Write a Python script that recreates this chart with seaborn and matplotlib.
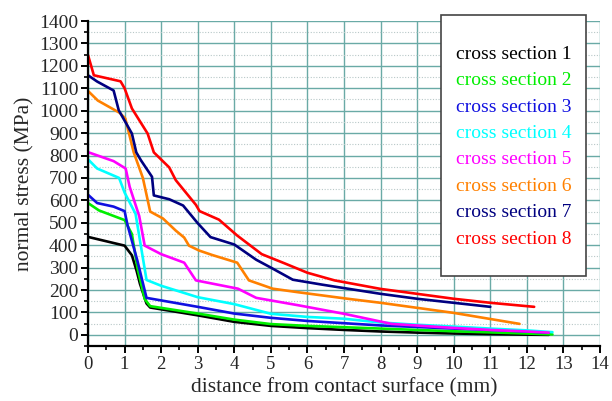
import matplotlib
matplotlib.use("Agg")
import matplotlib.pyplot as plt
from matplotlib.ticker import MultipleLocator
from matplotlib.patches import Rectangle
import seaborn as sns
import pandas as pd

sns.set_style("white")
plt.rcParams['font.family'] = ['Liberation Serif', 'DejaVu Serif']
plt.rcParams['mathtext.fontset'] = 'stix'

labels = ["cross section 1", "cross section 2", "cross section 3", "cross section 4",
          "cross section 5", "cross section 6", "cross section 7", "cross section 8"]
colors = ["#000000", "#00ee00", "#1010e0", "#00ffff", "#ff00ff", "#ff8000", "#000080", "#ff0000"]

x1 = [0, 1.0, 1.2, 1.33, 1.42, 1.6, 1.7, 3.0, 4.0, 5.0, 6.0, 7.0, 8.0, 9.0, 10.0, 11.0, 12.0, 12.6]
y1 = [437, 398, 355, 285, 228, 140, 122, 87, 58, 40, 30, 22, 15, 10, 6, 3, 1, 0]

x2 = [0, 0.3, 1.0, 1.2, 1.35, 1.55, 1.7, 3.0, 4.0, 5.0, 6.0, 7.0, 8.0, 9.0, 10.0, 11.0, 12.0, 12.7]
y2 = [588, 555, 512, 450, 300, 160, 128, 95, 68, 48, 40, 34, 28, 22, 16, 11, 6, 2]

x3 = [0, 0.25, 0.7, 1.0, 1.08, 1.35, 1.6, 3.0, 4.0, 5.0, 6.0, 7.0, 8.0, 9.0, 10.0, 11.0, 12.0, 12.6]
y3 = [625, 588, 572, 552, 490, 331, 165, 125, 95, 76, 62, 52, 42, 35, 28, 22, 15, 10]

x4 = [0, 0.25, 0.85, 1.0, 1.3, 1.6, 2.0, 3.0, 4.0, 5.0, 6.0, 7.0, 8.0, 9.0, 10.0, 11.0, 12.0, 12.7]
y4 = [783, 742, 700, 635, 540, 245, 219, 168, 137, 94, 80, 72, 55, 45, 37, 28, 20, 12]

x5 = [0, 0.7, 1.03, 1.14, 1.4, 1.55, 2.0, 2.63, 2.95, 4.1, 4.6, 5.75, 7.0, 8.3, 10.0, 11.0, 12.0, 12.6]
y5 = [815, 775, 742, 660, 530, 398, 360, 322, 243, 206, 165, 132, 94, 49, 31, 22, 15, 10]

x6 = [0, 0.27, 0.87, 1.02, 1.25, 1.5, 1.7, 2.05, 2.4, 2.63, 2.76, 3.04, 3.4, 4.08, 4.4, 5.05, 5.75, 7.1, 8.0, 10.0, 11.8]
y6 = [1088, 1045, 990, 965, 814, 700, 550, 519, 465, 434, 398, 376, 356, 322, 243, 206, 190, 161, 143, 98, 49]

x7 = [0, 0.25, 0.7, 0.84, 1.2, 1.32, 1.45, 1.75, 1.8, 2.22, 2.6, 3.0, 3.35, 4.0, 4.6, 5.0, 5.6, 6.4, 7.1, 8.0, 9.0, 10.0, 11.0]
y7 = [1158, 1130, 1090, 1002, 898, 814, 778, 705, 622, 605, 577, 498, 436, 403, 335, 300, 246, 224, 206, 183, 161, 143, 125]

x8 = [0, 0.16, 0.89, 1.0, 1.2, 1.63, 1.8, 2.22, 2.4, 2.95, 3.05, 3.58, 4.08, 4.75, 5.39, 6.0, 6.74, 8.0, 9.0, 10.0, 11.0, 12.2]
y8 = [1248, 1158, 1131, 1100, 1010, 898, 814, 747, 690, 580, 552, 514, 443, 360, 318, 277, 243, 205, 183, 161, 143, 125]

xs = [x1, x2, x3, x4, x5, x6, x7, x8]
ys = [y1, y2, y3, y4, y5, y6, y7, y8]

fig = plt.figure(figsize=(6.12, 4.01), dpi=100)
ax = fig.add_axes([0.1438, 0.137, 0.8366, 0.8106])

grid_c = "#6aaaa6"
ax.set_xlim(0, 14)
ax.set_ylim(-50, 1400)
ax.xaxis.set_major_locator(MultipleLocator(1))
ax.xaxis.set_minor_locator(MultipleLocator(0.5))
ax.yaxis.set_major_locator(MultipleLocator(100))
ax.yaxis.set_minor_locator(MultipleLocator(50))
ax.grid(True, which='major', axis='both', color=grid_c, lw=1.0)
ax.grid(True, which='minor', axis='y', color="#b8c8c8", lw=0.8, ls=(0, (1, 1.5)))
ax.set_axisbelow(True)

for x, y, lab, c in zip(xs, ys, labels, colors):
    df = pd.DataFrame({"x": x, "y": y})
    sns.lineplot(data=df, x="x", y="y", ax=ax, color=c, lw=1.9, label=lab,
                 estimator=None, sort=False)

for s in ['top', 'right']:
    ax.spines[s].set_visible(False)
for s in ['left', 'bottom']:
    ax.spines[s].set_color('black')
    ax.spines[s].set_linewidth(1.6)

ax.tick_params(axis='both', which='major', direction='out', length=5, width=1.4,
               labelsize=14, color='black', left=True, bottom=True, pad=2)
ax.tick_params(axis='x', which='major', labelsize=13.5)
ax.tick_params(axis='both', which='minor', direction='out', length=3, width=1.2,
               color='black', left=True, bottom=True)

ax.set_xlabel("distance from contact surface (mm)", fontsize=15.5, labelpad=4)
ax.set_ylabel("normal stress (MPa)", fontsize=15.5, labelpad=3)

# legend box
rect = Rectangle((0.69, 0.215), 0.283, 0.803, transform=ax.transAxes, facecolor='white',
                 edgecolor='#444444', lw=1.2, clip_on=False, zorder=5)
ax.add_patch(rect)
leg = ax.legend(loc='center', bbox_to_anchor=(0.8315, 0.614), frameon=False,
                handlelength=0, handletextpad=0, fontsize=14, labelspacing=0.45,
                labelcolor='linecolor')
for h in leg.legend_handles:
    h.set_visible(False)
leg.set_zorder(6)

fig.savefig("out.png", dpi=100)
